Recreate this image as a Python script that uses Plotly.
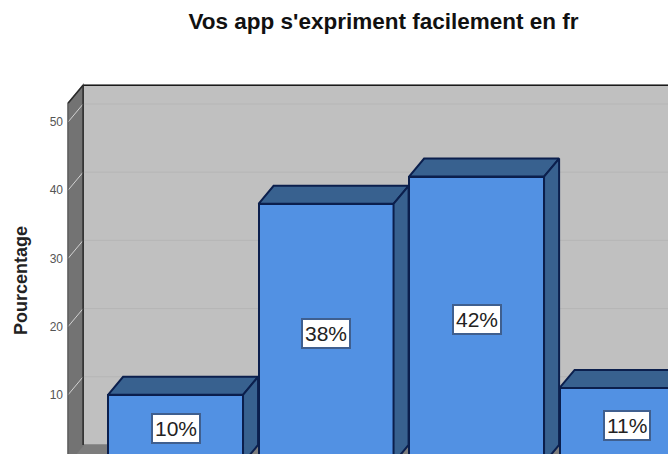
import plotly.graph_objects as go

# Chart content
title = "Vos app s'expriment facilement en fr"
y_title = "Pourcentage"
positions = [0, 1, 2, 3]
percentages = [10, 38, 42, 11]
tick_values = [10, 20, 30, 40, 50]

# Pseudo-3D box proportions, in axis units
BAR_WIDTH = 0.897
DEPTH_X = 0.10
DEPTH_Y = 2.64
X_RANGE = [-0.741, 3.272]
Y_RANGE = [1.32, 56.16]
WALL_TOP = 55.4

FRONT = "#5291e3"
SIDE = "#38618f"
EDGE = "#0b1f4d"
WALL = "#c0c0c0"
LEFT_WALL = "#737373"
FLOOR = "#7d7d7d"
GRID = "#b6b6b6"
WALL_GRID = "#d2d2d2"
TEXT = "#222222"
FONT = "Liberation Sans"


def polygon(points, fill, line=None, width=1.5):
    path = "M " + " L ".join(f"{x},{y}" for x, y in points) + " Z"
    return dict(type="path", path=path, xref="x", yref="y", layer="below",
                fillcolor=fill, line=dict(color=line or fill, width=width))


def segment(x0, y0, x1, y1, color, width=1):
    return dict(type="line", x0=x0, y0=y0, x1=x1, y1=y1, xref="x", yref="y",
                layer="below", line=dict(color=color, width=width))


left = X_RANGE[0] + 0.027   # front edge of the left wall
back = left + DEPTH_X       # back edge of the left wall
right = X_RANGE[1] + 1

shapes = [
    polygon([(back, DEPTH_Y), (back, WALL_TOP), (right, WALL_TOP), (right, DEPTH_Y)], WALL),
    polygon([(left, 0), (back, DEPTH_Y), (right, DEPTH_Y), (right, 0)], FLOOR),
    polygon([(left, 0), (left, WALL_TOP - DEPTH_Y), (back, WALL_TOP), (back, DEPTH_Y)], LEFT_WALL),
]
for v in tick_values:
    shapes.append(segment(back, v + DEPTH_Y, right, v + DEPTH_Y, GRID))
    shapes.append(segment(left, v, back, v + DEPTH_Y, WALL_GRID))
shapes += [
    segment(back, WALL_TOP, right, WALL_TOP, "#1a1a1a", 1.5),
    segment(back, DEPTH_Y, back, WALL_TOP, "#2a2a2a", 1.5),
    segment(left, WALL_TOP - DEPTH_Y, back, WALL_TOP, "#2a2a2a", 1.5),
    segment(left, 0, left, WALL_TOP - DEPTH_Y, "#555555", 1),
]

fig = go.Figure()

fig.add_trace(go.Bar(
    x=positions, y=percentages, width=BAR_WIDTH,
    marker=dict(color=FRONT, line=dict(color=EDGE, width=2)),
    hoverinfo="skip", showlegend=False,
))

# Top and side faces of each box follow its value
for x, v in zip(positions, percentages):
    x0 = x - BAR_WIDTH / 2
    x1 = x + BAR_WIDTH / 2
    fig.add_trace(go.Scatter(
        x=[x0, x0 + DEPTH_X, x1 + DEPTH_X, x1, x0],
        y=[v, v + DEPTH_Y, v + DEPTH_Y, v, v],
        mode="lines", fill="toself", fillcolor=SIDE,
        line=dict(color=EDGE, width=2), hoverinfo="skip", showlegend=False,
    ))
    fig.add_trace(go.Scatter(
        x=[x1, x1 + DEPTH_X, x1 + DEPTH_X, x1, x1],
        y=[v, v + DEPTH_Y, DEPTH_Y, 0, v],
        mode="lines", fill="toself", fillcolor=SIDE,
        line=dict(color=EDGE, width=2), hoverinfo="skip", showlegend=False,
    ))

annotations = [
    dict(x=x, y=v / 2, xref="x", yref="y", text=f"{v}%", showarrow=False,
         font=dict(family=FONT, size=21, color=TEXT), bgcolor="white",
         bordercolor="#3f5f8f", borderwidth=2, borderpad=2)
    for x, v in zip(positions, percentages)
]
# Axis title placed in paper space beside the left wall
annotations.append(dict(
    x=(21 - 64) / (668 - 64), y=(454 - 281) / (454 - 80),
    xref="paper", yref="paper", xanchor="center", yanchor="middle",
    text=f"<b>{y_title}</b>", textangle=-90, showarrow=False,
    font=dict(family=FONT, size=18, color=TEXT),
))

fig.update_layout(
    width=668, height=454, autosize=False,
    margin=dict(l=64, r=0, t=80, b=0),
    paper_bgcolor="white", plot_bgcolor="white",
    title=dict(text=f"<b>{title}</b>", x=383.5 / 668, xanchor="center",
               y=1 - 21 / 454, yanchor="middle",
               font=dict(family=FONT, size=22.5, color="#111111")),
    xaxis=dict(range=X_RANGE, showgrid=False, zeroline=False, showticklabels=False,
               ticks="", fixedrange=True),
    yaxis=dict(range=Y_RANGE, showgrid=False, zeroline=False, tickvals=tick_values,
               ticks="", tickfont=dict(family=FONT, size=12, color="#555555"),
               fixedrange=True),
    shapes=shapes, annotations=annotations, showlegend=False, bargap=0,
)

fig.write_html("out.html", config=dict(displayModeBar=False))
